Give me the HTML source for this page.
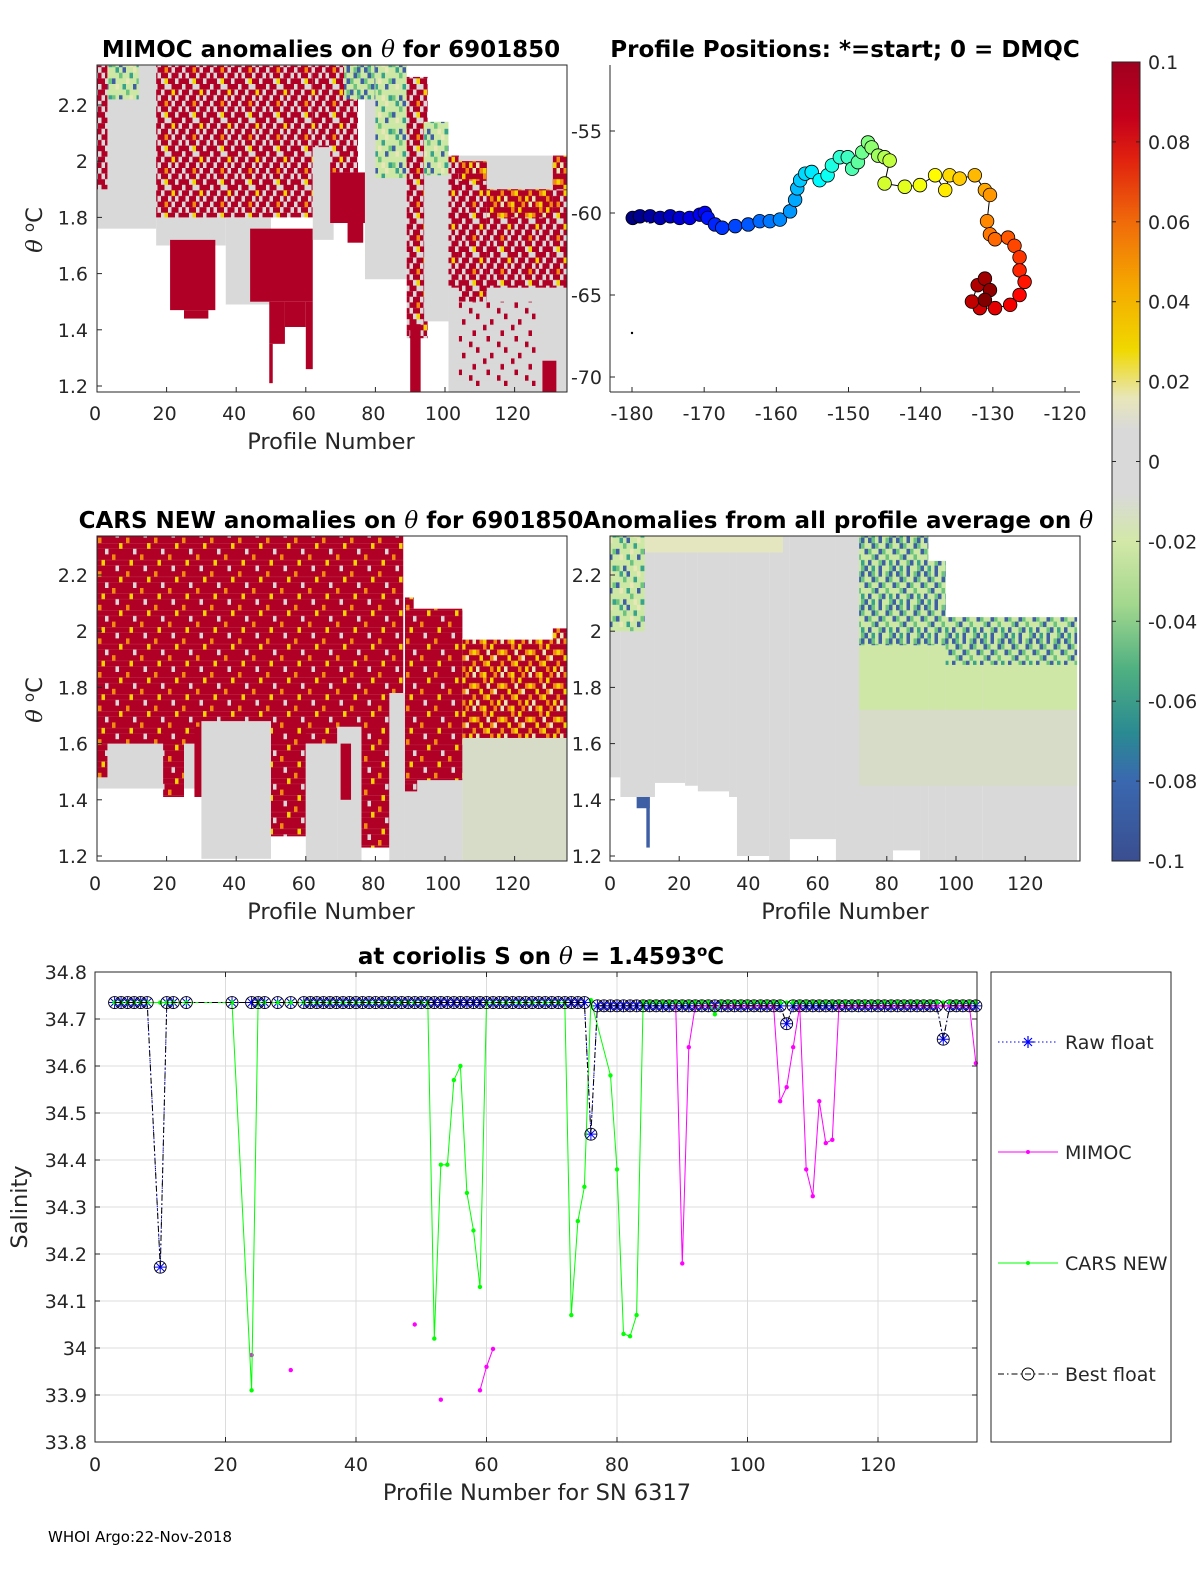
<!DOCTYPE html>
<html><head><meta charset="utf-8"><style>
html,body{margin:0;padding:0;background:#fff;width:1200px;height:1575px;overflow:hidden}
svg{display:block;font-family:"DejaVu Sans","Liberation Sans",sans-serif}
.t{font-size:23px;font-weight:bold;fill:#000}
.k{font-size:19px;fill:#262626}
.ax{font-size:22.5px;fill:#262626}
.th{font-family:"DejaVu Serif","Liberation Serif",serif;font-style:italic;font-weight:normal}
</style></head><body>
<svg id="fig" width="1200" height="1575" viewBox="0 0 1200 1575">
<defs id="defs">
<linearGradient id="cbgrad" x1="0" y1="0" x2="0" y2="1">
<stop offset="0" stop-color="#a00020"/><stop offset="0.07" stop-color="#c4001c"/><stop offset="0.12" stop-color="#e0200f"/>
<stop offset="0.2" stop-color="#f06a0a"/><stop offset="0.28" stop-color="#f5a800"/><stop offset="0.36" stop-color="#f0d800"/>
<stop offset="0.42" stop-color="#e8e6b8"/><stop offset="0.46" stop-color="#d9d9d9"/><stop offset="0.54" stop-color="#d9d9d9"/>
<stop offset="0.6" stop-color="#d3e8a8"/><stop offset="0.68" stop-color="#a2d78e"/><stop offset="0.76" stop-color="#4fb081"/>
<stop offset="0.84" stop-color="#2a8a92"/><stop offset="0.9" stop-color="#3a68b0"/><stop offset="1" stop-color="#3a4e90"/>
</linearGradient>
<clipPath id="clipA"><rect x="97" y="65" width="470" height="327"/></clipPath>
<clipPath id="clipB"><rect x="97" y="536" width="470" height="325"/></clipPath>
<clipPath id="clipC"><rect x="610" y="536" width="470" height="325"/></clipPath>
</defs>

<!-- titles -->
<text class="t" x="331" y="57" text-anchor="middle">MIMOC anomalies on <tspan class="th">θ</tspan>  for 6901850</text>
<text class="t" x="845" y="57" text-anchor="middle">Profile Positions: *=start; 0 = DMQC</text>
<text class="t" x="331" y="528" text-anchor="middle">CARS NEW anomalies on <tspan class="th">θ</tspan> for 6901850</text>
<text class="t" x="838" y="528" text-anchor="middle">Anomalies from all profile average on <tspan class="th">θ</tspan></text>
<text class="t" x="541" y="964" text-anchor="middle">at coriolis S on <tspan class="th">θ</tspan> = 1.4593<tspan dy="-8" font-size="15">o</tspan><tspan dy="8">C</tspan></text>

<g id="gA" clip-path="url(#clipA)"></g>
<g id="gB" clip-path="url(#clipB)"></g>
<g id="gC" clip-path="url(#clipC)"></g>
<g id="axes"></g>
<g id="map"></g>
<g id="bottom"></g>

<!-- colorbar -->
<rect x="1112" y="62" width="28" height="799" fill="url(#cbgrad)" stroke="#262626" stroke-width="1"/>
<g id="cbticks"></g>

<!-- axis titles -->
<text class="ax" x="331" y="449" text-anchor="middle">Profile Number</text>
<text class="ax" x="331" y="919" text-anchor="middle">Profile Number</text>
<text class="ax" x="845" y="919" text-anchor="middle">Profile Number</text>
<text class="ax" transform="translate(42,230) rotate(-90)" text-anchor="middle"><tspan class="th">θ</tspan> <tspan dy="-8" font-size="15">o</tspan><tspan dy="8">C</tspan></text>
<text class="ax" transform="translate(42,700) rotate(-90)" text-anchor="middle"><tspan class="th">θ</tspan> <tspan dy="-8" font-size="15">o</tspan><tspan dy="8">C</tspan></text>
<text class="ax" transform="translate(27,1207) rotate(-90)" text-anchor="middle">Salinity</text>
<text class="ax" x="537" y="1500" text-anchor="middle">Profile Number for SN 6317</text>
<text x="48" y="1542" style="font-size:15px" fill="#000">WHOI Argo:22-Nov-2018</text>

<!-- legend -->
<g>
<rect x="991" y="972" width="180" height="470" fill="#fff" stroke="#262626" stroke-width="1"/>
<g>
<line x1="998" y1="1042" x2="1058" y2="1042" stroke="#0000ff" stroke-dasharray="1.5,2.5"/>
<path d="M1022,1042h12M1028,1036v12M1024,1038l8,8M1032,1038l-8,8" stroke="#0000ff" stroke-width="1.2"/>
<text class="k" x="1065" y="1049">Raw float</text></g>
<g>
<line x1="998" y1="1152" x2="1058" y2="1152" stroke="#ff00ff"/><circle cx="1028" cy="1152" r="2" fill="#ff00ff"/>
<text class="k" x="1065" y="1159">MIMOC</text></g>
<g>
<line x1="998" y1="1263" x2="1058" y2="1263" stroke="#00ff00"/><circle cx="1028" cy="1263" r="2" fill="#00ff00"/>
<text class="k" x="1065" y="1270">CARS NEW</text></g>
<g>
<line x1="998" y1="1374" x2="1058" y2="1374" stroke="#000" stroke-dasharray="6,3,1.5,3"/><circle cx="1028" cy="1374" r="6" fill="none" stroke="#000"/>
<text class="k" x="1065" y="1381">Best float</text></g>
</g>
</svg>
<script>
// ---------- data: bottom salinity chart ----------
const A = 34.735, B = 34.728, C = 34.735, N = null;
const profs = [3,4,5,6,7,8,10,11,12,14, 21,24,25,26,28,30,32,33,34,35,
 36,37,38,39,40,41,42,43,44,45, 46,47,48,49,50,51,52,53,54,55, 56,57,58,59,60,61,62,63,64,65,
 66,67,68,69,70,71,72,73,74,75, 76,77,78,79,80,81,82,83,84,85, 86,87,88,89,90,91,92,93,94,95,
 96,97,98,99,100,101,102,103,104,105, 106,107,108,109,110,111,112,113,114,115,
 116,117,118,119,120,121,122,123,124,125, 126,127,128,129,130,131,132,133,134,135];
const rawS = [A,A,A,A,A,A,34.172,A,A,A, A,A,A,A,A,A,A,A,A,A, A,A,A,A,A,A,A,A,A,A,
 A,A,A,A,A,A,A,A,A,A, A,A,A,A,A,A,A,A,A,A, A,A,A,A,A,A,A,A,A,A,
 34.455,B,B,B,B,B,B,B,B,B, B,B,B,B,B,B,B,B,B,B, B,B,B,B,B,B,B,B,B,B,
 34.69,B,B,B,B,B,B,B,B,B, B,B,B,B,B,B,B,B,B,B, B,B,B,B,34.657,B,B,B,B,B];
const carsS = [C,C,C,C,C,C,C,C,C,C, C,33.91,C,C,C,C,C,C,C,C, C,C,C,C,C,C,C,C,C,C,
 C,C,C,C,C,C,34.02,34.39,34.39,34.57, 34.60,34.33,34.25,34.13,C,C,C,C,C,C,
 C,C,C,C,C,C,C,34.07,34.27,34.343, 34.74,N,N,34.58,34.38,34.03,34.025,34.07,C,C,
 C,C,C,C,C,C,C,C,C,34.71, C,C,C,C,C,C,C,C,C,C, C,C,C,C,C,C,C,C,C,C,
 C,C,C,C,C,C,C,C,C,C, C,C,C,C,C,C,C,C,C,C];
const mimocS = [N,N,N,N,N,N,N,N,N,N, N,33.985,N,N,N,33.953,N,N,N,N, N,N,N,N,N,N,N,N,N,N,
 N,N,N,34.05,N,N,N,33.89,N,N, N,N,N,33.91,33.96,33.998,N,N,N,N,
 N,N,N,N,N,N,N,N,N,N, N,N,N,N,N,N,N,N,N,N, N,N,N,34.73,34.18,34.64,B,B,B,B,
 B,B,B,B,B,B,B,B,B,34.525, 34.555,34.64,B,34.38,34.323,34.525,34.436,34.443,B,B,
 B,B,B,B,B,B,B,B,B,B, B,B,B,B,B,B,B,B,B,34.606];
const bestS = [A,A,A,A,A,A,34.172,A,A,A, A,A,A,A,A,A,A,A,A,A, A,A,A,A,A,A,A,A,A,A,
 A,A,A,A,A,A,A,A,A,A, A,A,A,A,A,A,A,A,A,A, A,A,A,A,A,A,A,A,A,A,
 34.455,B,B,B,B,B,B,B,B,B, B,B,B,B,B,B,B,B,B,B, B,B,B,B,B,B,B,B,B,B,
 34.69,B,B,B,B,B,B,B,B,B, B,B,B,B,B,B,B,B,B,B, B,B,B,B,34.657,B,B,B,B,B];
const salXTicks = [0,20,40,60,80,100,120];
const salYTicks = [33.8,33.9,34,34.1,34.2,34.3,34.4,34.5,34.6,34.7,34.8];
const salYLabels = ["33.8","33.9","34","34.1","34.2","34.3","34.4","34.5","34.6","34.7","34.8"];

// ---------- data: map ----------
const lon = [-179.9,-178.9,-177.5,-176.1,-174.7,-173.4,-172.0,-170.6,-169.9,-169.5,-168.5,-167.5,-165.7,-163.9,-162.3,-160.9,-159.5,-158.1,-157.4,-157.1,-156.7,-156.0,-155.1,-154.0,-152.9,-152.3,-151.2,-150.1,-149.5,-148.7,-148.1,-147.3,-146.8,-145.9,-145.0,-144.3,-145.0,-142.2,-140.1,-138.0,-136.6,-136.0,-134.6,-132.5,-131.1,-130.4,-130.8,-130.4,-129.7,-127.9,-127.0,-126.3,-126.3,-125.6,-126.3,-127.6,-129.7,-131.8,-132.9,-132.1,-131.1,-130.4,-131.1];
const lat = [-60.3,-60.2,-60.2,-60.3,-60.2,-60.3,-60.3,-60.1,-60.0,-60.3,-60.7,-60.9,-60.8,-60.7,-60.5,-60.5,-60.4,-59.9,-59.2,-58.5,-58.0,-57.6,-57.5,-58.0,-57.7,-57.1,-56.6,-56.6,-57.3,-56.9,-56.3,-55.7,-56.0,-56.5,-56.6,-56.8,-58.2,-58.4,-58.3,-57.7,-58.6,-57.7,-57.9,-57.7,-58.6,-58.9,-60.5,-61.3,-61.6,-61.5,-62.0,-62.7,-63.5,-64.2,-65.0,-65.6,-65.8,-65.8,-65.4,-64.4,-64.0,-64.7,-65.3];
const mapXTicks = [-180,-170,-160,-150,-140,-130,-120];
const mapYTicks = [-55,-60,-65,-70];

// ---------- data: heatmap regions [profileStart, profileEnd, thetaTop, thetaBottom, class] ----------
const segsA = [
 [0,17,2.34,1.76,'g'],[0,3,2.34,1.9,'m'],[3,12,2.34,2.22,'n'],[17,37,2.34,1.70,'g'],[17,62,2.34,1.80,'m'],
 [21,34,1.72,1.47,'r'],[25,32,1.47,1.44,'r'],[37,50,1.80,1.49,'g'],[44,62,1.76,1.50,'r'],[49.5,54,1.50,1.35,'r'],
 [49.5,50.5,1.35,1.21,'r'],[54,60,1.50,1.41,'r'],[60,62,1.50,1.26,'r'],[62,68,2.34,1.72,'g'],[62,68,2.34,2.05,'m'],
 [67,75,2.34,1.96,'m'],[67,77,1.96,1.78,'r'],[72,76.5,1.80,1.71,'r'],[77,89,2.34,1.58,'g'],[71,80,2.34,2.22,'B'],
 [80,89,2.34,1.94,'n'],[89,95,2.30,1.37,'m'],[90,93,1.42,1.18,'r'],[94,101,2.14,1.43,'g'],[94,101,2.14,1.95,'n'],
 [101,135,2.02,1.18,'g'],[101,104,2.02,1.55,'m'],[104,112,2.0,1.5,'m'],[112,131,1.9,1.55,'m'],[131,135,1.98,1.55,'m'],
 [104,112,2.0,1.93,'O'],[112,131,1.9,1.80,'O'],[131,135,2.02,1.9,'O'],[104,126,1.5,1.2,'s'],[128,132,1.29,1.18,'r']];
const segsB = [
 [0,30,1.66,1.44,'g'],[0,88,2.34,1.60,'M'],[0,3,1.6,1.48,'M'],[19,25,1.66,1.41,'M'],[28,31,1.66,1.41,'r'],
 [30,50,1.68,1.19,'g'],[50,60,1.68,1.27,'M'],[60,69,1.6,1.18,'g'],[69,76,1.66,1.18,'g'],[70,73,1.6,1.40,'r'],
 [76,84,1.66,1.23,'M'],[84,88.5,1.78,1.18,'g'],[88.5,105,2.08,1.18,'g'],[88.5,91,2.12,2.08,'M'],
 [88.5,105,2.08,1.47,'M'],[88.5,92,1.47,1.43,'M'],[105,135,1.97,1.18,'lg'],[105,135,1.97,1.62,'O'],[131,135,2.01,1.97,'O']];
const segsC = [
 [0,3,2.34,1.48,'g'],[3,13,2.34,1.41,'g'],[13,21.7,2.34,1.46,'g'],[21.7,25.4,2.34,1.45,'g'],[25.4,34.4,2.34,1.43,'g'],
 [34.4,36.7,2.34,1.41,'g'],[36.7,46,2.34,1.20,'g'],[46,52,2.34,1.17,'g'],[52,65.3,2.34,1.26,'g'],[65.3,81.8,2.34,1.17,'g'],
 [81.8,89.6,2.34,1.22,'g'],[89.6,92,2.34,1.17,'g'],[92,97,2.25,1.17,'g'],[97,107.6,2.05,1.17,'g'],[107.6,135,2.01,1.17,'g'],
 [0,50,2.34,2.28,'P'],[0,10,2.34,2.0,'n'],[72,92,2.34,1.72,'G'],[92,97,2.25,1.72,'G'],[97,107.6,2.05,1.72,'G'],[107.6,135,2.01,1.72,'G'],
 [72,92,2.34,1.95,'B'],[92,97,2.25,1.95,'B'],[97,135,2.05,1.88,'B'],[72,135,1.72,1.45,'lg'],
 [7.7,11.5,1.41,1.37,'b'],[10.5,11.5,1.41,1.23,'b']];
const heatXTicks = [0,20,40,60,80,100,120];
const thetaTicks = [2.2,2,1.8,1.6,1.4,1.2];
const thetaLabels = ["2.2","2","1.8","1.6","1.4","1.2"];
const cbLabels = ["0.1","0.08","0.06","0.04","0.02","0","-0.02","-0.04","-0.06","-0.08","-0.1"];

// ---------- helpers ----------
const NS = "http://www.w3.org/2000/svg";
function mk(tag, parent, attrs){
  const e = document.createElementNS(NS, tag);
  for (const k in attrs) e.setAttribute(k, attrs[k]);
  parent.appendChild(e);
  return e;
}
const defs = document.getElementById('defs');
const pal = {R:'#b10026',G:'#d9d9d9',O:'#f08a10',Y:'#f5d300',P:'#e9e6b8',L:'#cde8a4',T:'#38a38a',B:'#3f5fa5',D:'#6cc27f'};
const patGrids = {
 M:["RRRRORRR","RRYRRRRR","RRRRRRGR","ORRRRRRR","RRRRRYRR","RGRRRRRR"],
 m:["RGRRGRRO","GRRGRGRR","RRGRRRGY","GRRRGRRG","RYRGRRGR","GRGRRGRR"],
 s:["GGGRGGGG","GGGGGGRG","RGGGGGGG","GGGGRGGG","GGRGGGGG","GGGGGGGR"],
 O:["ROYRRORP","RRORYRRR","ORRPRROY","RYRROPRR","RROYRRRO","PRRRORYR"],
 n:["LTLBLLPL","LLDLLTLL","BLLLPLLD","LPLTLLBL","LLLLDLLL","DLBLLPLT"],
 B:["BDLBLDBL","LBDLLBDL","DLLBDLLB","LDBLLDLL","BLLDBLTL","LTLBLLDB"]
};
const cw = 3.5, ch = 5.6;
for (const key in patGrids){
  const grid = patGrids[key];
  const p = mk('pattern', defs, {id:'pat'+key, patternUnits:'userSpaceOnUse', width:cw*8, height:ch*6});
  grid.forEach((row, r) => { for (let c=0;c<row.length;c++) mk('rect', p, {x:c*cw, y:r*ch, width:cw+0.05, height:ch+0.05, fill:pal[row[c]]}); });
}
const plain = {g:'#d9d9d9', r:'#b10026', lg:'#d6dcc8', G:'#cfe7a6', P:'#e4e6bf', b:'#3f5fa5'};
function fillOf(t){ return plain[t] ? plain[t] : 'url(#pat'+t+')'; }

function drawHeat(gid, segs, xs, ys, name){
  const g = document.getElementById(gid);
  segs.forEach(s => {
    const r = mk('rect', g, {x:xs(s[0]), y:ys(s[2]), width:Math.max(0,xs(s[1])-xs(s[0])), height:Math.max(0,ys(s[3])-ys(s[2])), fill:fillOf(s[4])});
    
    
  });
}
const axes = document.getElementById('axes');
function frame(x,y,w,h,name){
  const r = mk('rect', axes, {x:x, y:y, width:w, height:h, fill:'none', stroke:'#262626', 'stroke-width':1});
  
  
}
function label(parent, x, y, txt, anchor, name){
  const t = mk('text', parent, {x:x, y:y, 'text-anchor':anchor, class:'k'});
  t.textContent = txt;
  
  
  return t;
}
function tick(parent,x1,y1,x2,y2){ mk('line', parent, {x1:x1,y1:y1,x2:x2,y2:y2,stroke:'#262626','stroke-width':1}); }

// ---------- heatmaps ----------
const xA = p => 97 + p*3.48;
const yA = t => 105 + (2.2 - t)*281;
const yB = t => 575 + (2.2 - t)*281;
const xC = p => 610 + p*3.46;
drawHeat('gA', segsA, xA, yA, 'mimoc-anomaly');
drawHeat('gB', segsB, xA, yB, 'cars-anomaly');
drawHeat('gC', segsC, xC, yB, 'average-anomaly');
frame(97,65,470,327,'mimoc-axes-box');
frame(97,536,470,325,'cars-axes-box');
frame(610,536,470,325,'average-axes-box');
heatXTicks.forEach(v => {
  tick(axes, xA(v), 392, xA(v), 387); tick(axes, xA(v), 861, xA(v), 856); tick(axes, xC(v), 861, xC(v), 856);
  label(axes, xA(v)-2, 420, String(v), 'middle', 'mimoc-x-tick-label');
  label(axes, xA(v)-2, 890, String(v), 'middle', 'cars-x-tick-label');
  label(axes, xC(v), 890, String(v), 'middle', 'average-x-tick-label');
});
thetaTicks.forEach((v,i) => {
  tick(axes, 97, yA(v), 102, yA(v)); tick(axes, 97, yB(v), 102, yB(v)); tick(axes, 610, yB(v), 615, yB(v));
  label(axes, 88, yA(v)+7, thetaLabels[i], 'end', 'mimoc-y-tick-label');
  label(axes, 88, yB(v)+7, thetaLabels[i], 'end', 'cars-y-tick-label');
  label(axes, 602, yB(v)+7, thetaLabels[i], 'end', 'average-y-tick-label');
});

// ---------- map ----------
const mapG = document.getElementById('map');
const xM = lo => 632 + (lo + 180)*7.217;
const yM = la => 131 + (-55 - la)*16.4;
tick(mapG, 610, 65, 610, 392); tick(mapG, 610, 392, 1080, 392);
mapXTicks.forEach(v => {
  tick(mapG, xM(v), 392, xM(v), 387);
  label(mapG, xM(v), 420, String(v), 'middle', 'map-x-tick-label');
});
mapYTicks.forEach(v => {
  tick(mapG, 610, yM(v), 615, yM(v));
  label(mapG, 602, yM(v)+7, String(v), 'end', 'map-y-tick-label');
});
function jet(f){
  const r = Math.min(1, Math.max(0, 1.5 - Math.abs(4*f - 3)));
  const g = Math.min(1, Math.max(0, 1.5 - Math.abs(4*f - 2)));
  const b = Math.min(1, Math.max(0, 1.5 - Math.abs(4*f - 1)));
  return 'rgb('+Math.round(r*255)+','+Math.round(g*255)+','+Math.round(b*255)+')';
}
const track = mk('polyline', mapG, {points: lon.map((v,i)=>xM(v)+','+yM(lat[i])).join(' '), fill:'none', stroke:'#000', 'stroke-width':1});


lon.forEach((v,i) => {
  const c = mk('circle', mapG, {cx:xM(v), cy:yM(lat[i]), r:6.8, fill:jet(i/(lon.length-1)), stroke:'#000', 'stroke-width':0.8});
  
  
});
const startMark = mk('path', mapG, {d:'M642,228h12M648,222v12M644,224l8,8M652,224l-8,8', stroke:'#fff', 'stroke-width':1.3});


mk('circle', mapG, {cx:632, cy:333, r:1.2, fill:'#000'});

// ---------- colorbar ----------
const cbG = document.getElementById('cbticks');
cbLabels.forEach((s,i) => {
  const y = 62 + i*79.9;
  tick(cbG, 1112, y, 1116, y); tick(cbG, 1140, y, 1136, y);
  label(cbG, 1148, y+7, s, 'start', 'colorbar-tick-label');
});

// ---------- bottom salinity chart ----------
const bg = document.getElementById('bottom');
const xS = p => 95 + p*6.525;
const yS = s => 1442 - (s - 33.8)*470;
mk('rect', bg, {x:95, y:972, width:882, height:470, fill:'#fff'});
salXTicks.forEach(v => {
  if (v>0) mk('line', bg, {x1:xS(v), y1:972, x2:xS(v), y2:1442, stroke:'#dcdcdc', 'stroke-width':1});
  tick(bg, xS(v), 1442, xS(v), 1437); tick(bg, xS(v), 972, xS(v), 977);
  label(bg, xS(v), 1471, String(v), 'middle', 'salinity-x-tick-label');
});
salYTicks.forEach((v,i) => {
  if (i>0 && i<salYTicks.length-1) mk('line', bg, {x1:95, y1:yS(v), x2:977, y2:yS(v), stroke:'#dcdcdc', 'stroke-width':1});
  tick(bg, 95, yS(v), 100, yS(v)); tick(bg, 977, yS(v), 972, yS(v));
  label(bg, 87, yS(v)+7, salYLabels[i], 'end', 'salinity-y-tick-label');
});
function linePath(vals, joinGaps){
  let d = '', pen = false;
  vals.forEach((v,i) => {
    if (v === null){ if (!joinGaps) pen = false; return; }
    d += (pen ? 'L' : 'M') + xS(profs[i]).toFixed(1) + ',' + yS(v).toFixed(1);
    pen = true;
  });
  return d;
}
const rawLine = mk('path', bg, {d:linePath(rawS,false), fill:'none', stroke:'#0000ff', 'stroke-dasharray':'1.5,2.5', 'stroke-width':1});


rawS.forEach((v,i) => {
  if (v === null) return;
  const x = xS(profs[i]), y = yS(v);
  const s = mk('path', bg, {d:'M'+(x-6)+','+y+'h12M'+x+','+(y-6)+'v12M'+(x-4.2)+','+(y-4.2)+'l8.4,8.4M'+(x+4.2)+','+(y-4.2)+'l-8.4,8.4', stroke:'#0000ff', 'stroke-width':1});
  
  
});
const mimLine = mk('path', bg, {d:linePath(mimocS,false), fill:'none', stroke:'#ff00ff', 'stroke-width':1});


mimocS.forEach((v,i) => {
  if (v === null) return;
  const c = mk('circle', bg, {cx:xS(profs[i]), cy:yS(v), r:2.2, fill:'#ff00ff'});
  
  
});
const carLine = mk('path', bg, {d:linePath(carsS,true), fill:'none', stroke:'#00ff00', 'stroke-width':1});


carsS.forEach((v,i) => {
  if (v === null) return;
  const c = mk('circle', bg, {cx:xS(profs[i]), cy:yS(v), r:2.2, fill:'#00ff00'});
  
  
});
const bestLine = mk('path', bg, {d:linePath(bestS,false), fill:'none', stroke:'#000', 'stroke-dasharray':'6,3,1.5,3', 'stroke-width':1});


bestS.forEach((v,i) => {
  if (v === null) return;
  const c = mk('circle', bg, {cx:xS(profs[i]), cy:yS(v), r:6, fill:'none', stroke:'#000', 'stroke-width':0.9});
  
  
});
const sbox = mk('rect', bg, {x:95, y:972, width:882, height:470, fill:'none', stroke:'#262626', 'stroke-width':1});


</script>
</body></html>
